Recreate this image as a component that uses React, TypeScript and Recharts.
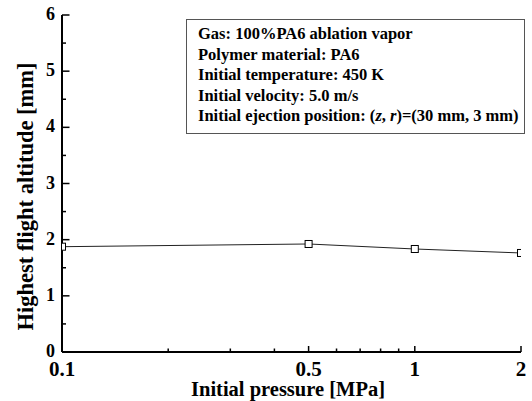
import { LineChart, Line, XAxis, YAxis } from "recharts";

const pressure = [0.1, 0.5, 1, 2];
const altitude = [1.875, 1.923, 1.834, 1.763];

const xMajorTicks = [0.1, 0.5, 1, 2];
const xMinorTicks = [0.2, 0.3, 0.4, 0.6, 0.7, 0.8, 0.9];
const yMajorTicks = [0, 1, 2, 3, 4, 5, 6];
const yMinorTicks = [0.5, 1.5, 2.5, 3.5, 4.5, 5.5];

const infoLines = [
  "Gas: 100%PA6 ablation vapor",
  "Polymer material: PA6",
  "Initial temperature: 450 K",
  "Initial velocity: 5.0 m/s",
];

const FONT = '"Liberation Serif", "Times New Roman", serif';

const data = pressure.map((p, i) => ({ p, h: altitude[i] }));
const xTicks = [...xMajorTicks, ...xMinorTicks].sort((a, b) => a - b);
const yTicks = [...yMajorTicks, ...yMinorTicks].sort((a, b) => a - b);

const XTick = (props: any) => {
  const { x, y, payload } = props;
  const major = xMajorTicks.includes(payload.value);
  return (
    <g>
      <line x1={x} y1={y} x2={x} y2={y - (major ? 6 : 3.5)} stroke="#000" strokeWidth={1.5} />
      {major && (
        <text x={x} y={y + 24} textAnchor="middle" fontFamily={FONT} fontWeight="bold" fontSize={21} fill="#000">
          {payload.value}
        </text>
      )}
    </g>
  );
};

const YTick = (props: any) => {
  const { x, y, payload } = props;
  const major = yMajorTicks.includes(payload.value);
  return (
    <g>
      <line x1={x} y1={y} x2={x + (major ? 7.5 : 4)} y2={y} stroke="#000" strokeWidth={1.5} />
      {major && (
        <text x={x - 7} y={y + 5} textAnchor="end" fontFamily={FONT} fontWeight="bold" fontSize={18} fill="#000">
          {payload.value}
        </text>
      )}
    </g>
  );
};

const SquareDot = (props: any) => {
  const { cx, cy, index } = props;
  return <rect key={`dot-${index}`} x={cx - 3.5} y={cy - 3.5} width={7} height={7} fill="#fff" stroke="#000" strokeWidth={1} />;
};

export default function App() {
  return (
    <div style={{ position: "absolute", left: 0, top: 0, width: 532, height: 401, background: "#fff" }}>
      <LineChart width={532} height={401} data={data} margin={{ top: 15, right: 11, bottom: 19, left: 22 }}>
        <XAxis
          dataKey="p"
          type="number"
          scale="log"
          domain={[0.1, 2]}
          ticks={xTicks}
          interval={0}
          height={30}
          tickSize={0}
          tickMargin={0}
          tick={<XTick />}
          axisLine={{ stroke: "#000", strokeWidth: 2 }}
          allowDataOverflow
          label={{
            content: () => (
              <text x={288} y={396} textAnchor="middle" fontFamily={FONT} fontWeight="bold" fontSize={20.5} fill="#000">
                Initial pressure [MPa]
              </text>
            ),
          }}
        />
        <YAxis
          type="number"
          domain={[0, 6]}
          ticks={yTicks}
          interval={0}
          width={40}
          tickSize={0}
          tickMargin={0}
          tick={<YTick />}
          axisLine={{ stroke: "#000", strokeWidth: 2 }}
          label={{
            content: () => (
              <text
                x={33}
                y={196.5}
                transform="rotate(-90 33 196.5)"
                textAnchor="middle"
                fontFamily={FONT}
                fontWeight="bold"
                fontSize={22.5}
                fill="#000"
              >
                Highest flight altitude [mm]
              </text>
            ),
          }}
        />
        <Line
          dataKey="h"
          type="linear"
          stroke="#222"
          strokeWidth={1}
          dot={<SquareDot />}
          isAnimationActive={false}
        />
      </LineChart>
      <div
        style={{
          position: "absolute",
          left: 186,
          top: 19,
          width: 339,
          height: 115,
          border: "1px solid #555",
          boxSizing: "border-box",
          padding: "4px 0 0 11px",
          fontFamily: FONT,
          fontWeight: "bold",
          fontSize: 16.5,
          lineHeight: "20.5px",
          color: "#000",
          background: "#fff",
          whiteSpace: "nowrap",
        }}
      >
        {infoLines.map((t) => (
          <div key={t}>{t}</div>
        ))}
        <div>
          Initial ejection position: (<i>z</i>, <i>r</i>)=(30 mm, 3 mm)
        </div>
      </div>
    </div>
  );
}
